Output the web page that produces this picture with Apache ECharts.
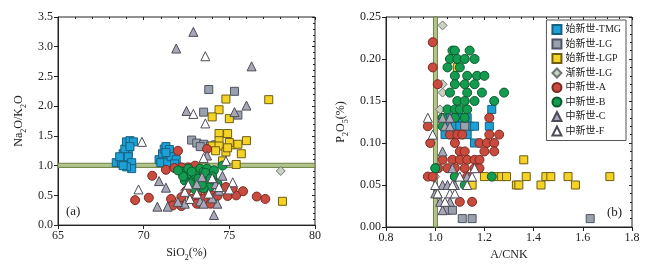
<!DOCTYPE html>
<html>
<head>
<meta charset="utf-8">
<script src="https://cdn.jsdelivr.net/npm/echarts@6/dist/echarts.min.js"></script>
<style>
  html, body { margin: 0; padding: 0; background: #fff; }
  #chart { width: 649px; height: 267px; }
</style>
</head>
<body>
<div id="chart"></div>
<script>
// legend names
const names = ['始新世-TMG', '始新世-LG', '始新世-LGP', '渐新世-LG', '中新世-A', '中新世-B', '中新世-C', '中新世-F']

// (a) SiO2 vs Na2O/K2O
const tmgA = [[68.4,1.05],[68.7,1.05],[68.9,1.10],[69.0,1.0],[68.8,1.2],[69.1,1.22],[68.9,1.28],[69.0,1.4],[69.2,1.42],[69.4,1.4],[69.2,1.32],[68.6,1.15],[69.1,1.15],[69.3,1.05],[69.3,0.95],[69.0,0.98],[68.8,1.0],
  [70.9,1.1],[71.1,1.2],[71.2,1.28],[71.3,1.32],[71.5,1.27],[71.0,1.05],[71.4,1.05],[71.6,1.15],[71.9,1.1],[71.3,1.22],[71.8,1.03]]
const lgA = [[73.8,2.28],[75.3,2.25],[73.5,1.9],[75.5,1.85],[72.8,1.43],[73.1,1.38],[73.5,1.36],[73.9,1.33],[74.2,1.35],[73.3,1.32]]
const lgpA = [[74.8,2.12],[77.3,2.11],[74.4,1.94],[74.0,1.82],[75.0,1.79],[74.4,1.54],[74.9,1.54],[74.4,1.42],[74.0,1.33],[74.4,1.33],[74.8,1.23],[75.2,1.35],[75.5,1.36],[76.0,1.42],[75.7,1.2],[75.0,1.39],[75.4,1.02],[74.6,1.08],[78.1,0.4],[74.2,1.25],[74.9,1.3]]
const oliA = [[78.0,0.91],[73.7,0.44],[72.4,0.58],[74.3,0.72],[73.2,0.35]]
const miaA = [[69.5,0.42],[70.3,0.46],[70.5,0.83],[71.3,0.93],[72.0,1.25],[71.6,0.44],[72.2,0.47],[72.2,0.32],[71.7,0.33],[72.8,0.44],[73.2,0.47],[73.7,0.58],[74.0,0.50],[74.3,0.49],[74.9,0.49],[75.4,0.50],[75.8,0.57],[75.2,0.62],[76.6,0.48],[77.1,0.44],[73.7,1.28],[73.0,1.0],[72.6,0.97],[72.2,0.97],[71.8,0.96],[72.5,0.58],[73.2,0.58],[74.8,0.64],[73.5,0.44],[73.1,0.36],[73.9,0.36]]
const mibA = [[72.2,0.90],[72.5,0.85],[72.7,0.80],[72.9,0.75],[73.0,0.85],[73.2,0.92],[73.4,0.80],[73.6,0.70],[73.8,0.85],[74.0,0.75],[72.6,0.95],[72.9,0.65],[73.1,0.70],[73.3,0.95],[73.5,0.90],[73.7,0.95],[73.9,0.65],[72.4,0.75],[72.8,0.90],[73.2,0.78],[73.6,0.88],[74.1,0.92],[74.6,1.0],[72.3,0.82],[73.0,0.60],[73.5,0.62],[74.0,0.82],[72.7,0.70],[73.4,0.68],[73.9,0.78],[74.3,0.70],[72.0,0.92]]
const micA = [[72.9,3.25],[71.9,2.97],[76.3,2.67],[76.0,2.01],[72.5,1.92],[75.3,1.90],[70.9,0.74],[71.3,0.63],[70.8,0.31],[71.4,0.31],[72.4,0.36],[73.3,0.40],[74.1,0.17],[74.3,0.36],[74.2,0.69],[74.6,0.83],[73.4,0.81],[73.1,0.69],[73.7,1.17],[74.4,0.58],[74.0,0.45],[73.5,0.36],[72.0,0.39]]
const mifA = [[73.6,2.84],[72.9,1.87],[73.6,1.71],[69.9,1.40],[69.7,0.60],[72.4,0.56],[72.7,0.44],[73.5,1.13],[74.8,1.08],[75.2,0.72],[74.4,0.64],[75.0,0.60],[73.8,0.53],[72.6,0.68],[74.0,0.79],[73.1,0.53]]

// (b) A/CNK vs P2O5
const tmgB = [[1.06,0.13],[1.09,0.13],[1.11,0.13],[1.13,0.13],[1.08,0.12],[1.10,0.12],[1.12,0.12],[1.14,0.12],[1.16,0.12],[1.22,0.12],[1.23,0.14],[1.07,0.11],[1.10,0.11],[1.13,0.11],[1.16,0.10],[1.04,0.11],[1.05,0.12]]
const lgB = [[1.11,0.01],[1.15,0.01],[1.63,0.01],[1.05,0.02],[1.07,0.02],[1.10,0.11],[1.12,0.12]]
const lgpB = [[1.20,0.06],[1.24,0.06],[1.27,0.06],[1.29,0.06],[1.37,0.06],[1.45,0.06],[1.47,0.06],[1.54,0.06],[1.71,0.06],[1.33,0.05],[1.34,0.05],[1.43,0.05],[1.57,0.05],[1.15,0.05],[1.36,0.08],[1.09,0.19]]
const oliB = [[1.03,0.24],[1.03,0.17],[1.03,0.16],[1.02,0.14],[1.02,0.07],[1.00,0.06],[1.03,0.13]]
const miaB = [[0.99,0.22],[0.99,0.19],[1.01,0.17],[1.22,0.13],[0.97,0.12],[0.98,0.10],[1.06,0.11],[1.09,0.11],[1.11,0.11],[1.08,0.10],[1.18,0.10],[1.21,0.10],[1.24,0.10],[1.26,0.11],[1.22,0.11],[1.24,0.09],[1.20,0.09],[1.10,0.09],[1.12,0.09],[1.03,0.08],[1.07,0.08],[1.10,0.08],[1.13,0.08],[1.16,0.08],[1.18,0.08],[1.01,0.07],[1.05,0.07],[1.08,0.07],[1.12,0.07],[1.16,0.07],[1.18,0.07],[0.97,0.06],[0.99,0.06],[1.08,0.06],[1.10,0.03],[1.15,0.03],[1.13,0.06]]
const mibB = [[1.07,0.21],[1.08,0.21],[1.14,0.21],[1.06,0.20],[1.09,0.20],[1.12,0.20],[1.16,0.20],[1.05,0.19],[1.10,0.19],[1.08,0.18],[1.13,0.18],[1.17,0.18],[1.20,0.18],[1.08,0.17],[1.12,0.17],[1.16,0.17],[1.06,0.16],[1.13,0.16],[1.19,0.16],[1.28,0.16],[1.09,0.15],[1.12,0.15],[1.16,0.15],[1.24,0.15],[1.05,0.14],[1.08,0.14],[1.10,0.14],[1.13,0.14],[1.03,0.13],[1.08,0.13],[1.12,0.13],[1.03,0.12],[1.08,0.06],[1.12,0.05],[1.23,0.06],[1.00,0.07]]
const micB = [[1.04,0.12],[1.06,0.12],[1.03,0.09],[1.07,0.07],[1.03,0.05],[1.01,0.04],[1.02,0.03],[1.06,0.03],[1.03,0.02],[1.05,0.05],[1.08,0.05],[1.13,0.06],[1.00,0.04],[1.03,0.13],[1.06,0.13]]
const mifB = [[0.97,0.13],[0.99,0.11],[1.00,0.05],[1.01,0.04],[1.06,0.04],[1.08,0.04],[1.15,0.06],[1.07,0.05],[1.13,0.05],[1.10,0.06],[1.16,0.07],[1.04,0.03]]

const dataA = [tmgA, lgA, lgpA, oliA, miaA, mibA, micA, mifA]
const dataB = [tmgB, lgB, lgpB, oliB, miaB, mibB, micB, mifB]

const looks = [
  { symbol: 'rect', size: 8, color: '#1ba1d8', border: '#17607f' },
  { symbol: 'rect', size: 8, color: '#9aa0ac', border: '#4d5360' },
  { symbol: 'rect', size: 8, color: '#f4d324', border: '#6e5d12' },
  { symbol: 'diamond', size: 9, color: '#c9d3c3', border: '#6f7570' },
  { symbol: 'circle', size: 9, color: '#c84b3e', border: '#7b2a22' },
  { symbol: 'circle', size: 9, color: '#139c4f', border: '#0b5a2d' },
  { symbol: 'triangle', size: 9, color: '#a7a7b7', border: '#4c4c58' },
  { symbol: 'triangle', size: 9, color: '#ffffff', border: '#4c4c58' }
]

const serif = "'Liberation Serif','Times New Roman',serif"
const ink = '#222'
const rich = {
  n: { fontSize: 12, fontFamily: serif, color: ink, padding: [0, 0, 3, 0], verticalAlign: 'bottom' },
  s: { fontSize: 8, fontFamily: serif, color: ink, verticalAlign: 'bottom' }
}

// main axis + an overlaid one carrying the inner minor ticks
function axisPair(grid, min, max, interval, minorSplit, digits, name, nameGap) {
  const main = {
    gridIndex: grid, min: min, max: max, interval: interval,
    name: name, nameLocation: 'middle', nameGap: nameGap,
    nameTextStyle: { rich: rich },
    axisLine: { show: true, onZero: false, lineStyle: { color: ink, width: 1 } },
    axisTick: { show: true, inside: false, length: 4, lineStyle: { color: ink } },
    axisLabel: { color: ink, fontSize: 12, fontFamily: serif, margin: 5,
      formatter: v => v.toFixed(digits) },
    splitLine: { show: false }
  }
  const minor = {
    gridIndex: grid, min: min, max: max, interval: interval,
    axisLine: { show: false, onZero: false },
    axisTick: { show: true, inside: true, length: 3, lineStyle: { color: ink } },
    minorTick: { show: true, splitNumber: minorSplit, length: 2, lineStyle: { color: ink } },
    axisLabel: { show: false },
    splitLine: { show: false }
  }
  return [main, minor]
}

const xAxes = [
  ...axisPair(0, 65, 80, 5, 5, 0, '{n|SiO}{s|2}{n|(%)}', 18),
  ...axisPair(1, 0.8, 1.8, 0.2, 4, 1, '{n|A/CNK}', 18)
]
const yAxes = [
  ...axisPair(0, 0, 3.5, 0.5, 5, 1, '{n|Na}{s|2}{n|O/K}{s|2}{n|O}', 30),
  ...axisPair(1, 0, 0.25, 0.05, 5, 2, '{n|P}{s|2}{n|O}{s|5}{n|(%)}', 36)
]

function scatterSet(data, xi, yi) {
  return data.map((pts, i) => ({
    name: names[i],
    type: 'scatter',
    xAxisIndex: xi, yAxisIndex: yi,
    symbol: looks[i].symbol,
    symbolSize: looks[i].size,
    itemStyle: { color: looks[i].color, borderColor: looks[i].border, borderWidth: 1, opacity: 1 },
    z: 3,
    data: pts
  }))
}

const band = { color: '#b3c48e', borderColor: '#6f8140', borderWidth: 1 }

const myChart = echarts.init(document.getElementById('chart'))
const option = {
  backgroundColor: '#fff',
  animation: false,
  grid: [
    { left: 58, right: 334, top: 17, bottom: 40, show: true, borderColor: ink, borderWidth: 1 },
    { left: 386, right: 17, top: 17, bottom: 40, show: true, borderColor: ink, borderWidth: 1 }
  ],
  legend: {
    data: names,
    orient: 'vertical',
    right: 23, top: 20,
    padding: [4, 5],
    itemGap: 3.5,
    itemWidth: 9, itemHeight: 9,
    borderColor: '#555', borderWidth: 1,
    backgroundColor: '#fff',
    textStyle: { fontSize: 10, lineHeight: 10, color: ink, padding: [0, 0, 0, -1],
      fontFamily: "'Liberation Serif','Noto Sans CJK SC',serif" }
  },
  xAxis: xAxes,
  yAxis: yAxes,
  graphic: [
    { type: 'text', left: 66, top: 205, style: { text: '(a)', font: '13px ' + serif, fill: ink } },
    { type: 'text', left: 607, top: 206, style: { text: '(b)', font: '13px ' + serif, fill: ink } }
  ],
  series: [
    { type: 'line', xAxisIndex: 0, yAxisIndex: 0, data: [], z: 1, silent: true,
      markArea: { silent: true, itemStyle: band, data: [[{ yAxis: 0.97 }, { yAxis: 1.04 }]] } },
    { type: 'line', xAxisIndex: 2, yAxisIndex: 2, data: [], z: 1, silent: true,
      markArea: { silent: true, itemStyle: band, data: [[{ xAxis: 0.993 }, { xAxis: 1.009 }]] } },
    ...scatterSet(dataA, 0, 0),
    ...scatterSet(dataB, 2, 2)
  ]
}
myChart.setOption(option)
</script>
</body>
</html>
